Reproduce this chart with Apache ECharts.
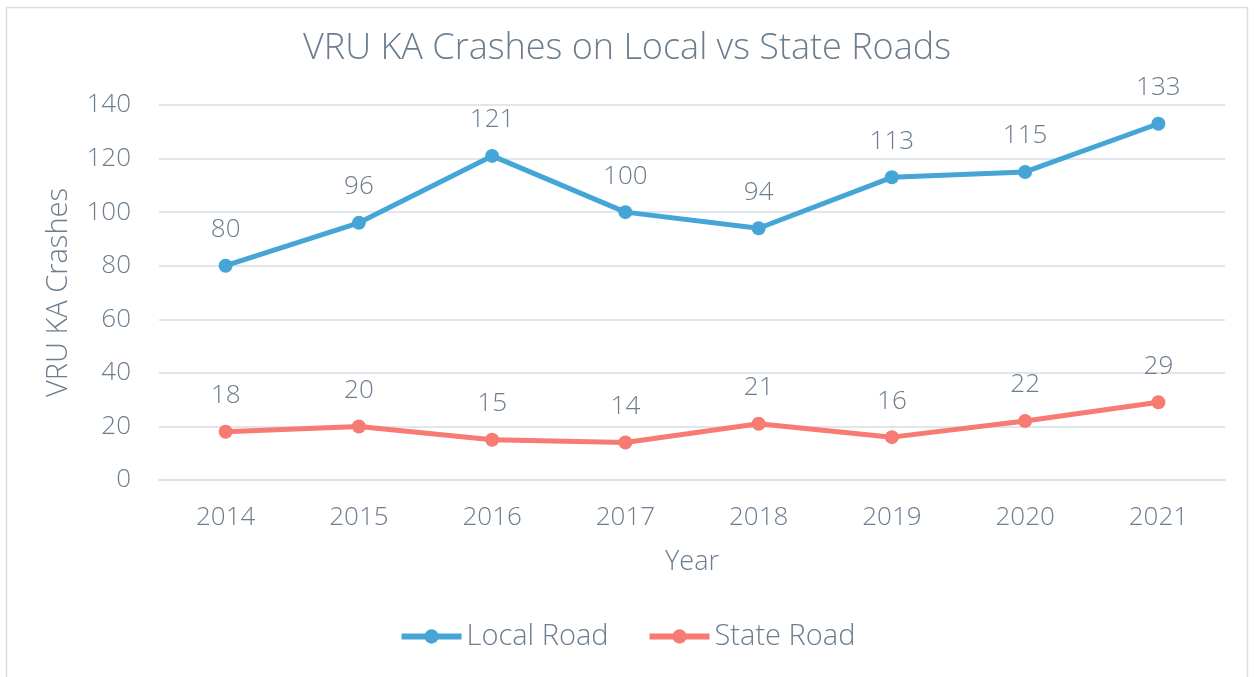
<!DOCTYPE html>
<html>
<head>
<meta charset="utf-8">
<script src="https://cdn.jsdelivr.net/npm/echarts@6/dist/echarts.min.js"></script>
<style>
html,body{margin:0;padding:0;background:#fff;}
#main{width:1254px;height:677px;}
</style>
</head>
<body>
<div id="main"></div>
<script>
var years = ['2014', '2015', '2016', '2017', '2018', '2019', '2020', '2021'];
var localRoad = [80, 96, 121, 100, 94, 113, 115, 133];
var stateRoad = [18, 20, 15, 14, 21, 16, 22, 29];

var textColor = '#6b7d8e';
var font = 'Open Sans';

var myChart = echarts.init(document.getElementById('main'));
myChart.setOption({
    textStyle: { fontFamily: font, color: textColor },
    graphic: [{
        type: 'rect',
        shape: { x: 6.5, y: 7.5, width: 1241, height: 700 },
        style: { fill: 'none', stroke: '#d9dee4', lineWidth: 1.5 },
        silent: true
    }],
    title: {
        text: 'VRU KA Crashes on Local vs State Roads',
        left: 'center',
        top: 26,
        textStyle: { fontFamily: font, fontSize: 36, fontWeight: 300, color: textColor }
    },
    legend: {
        bottom: 21,
        left: 'center',
        itemWidth: 60,
        itemHeight: 18,
        itemGap: 38,
        lineStyle: { width: 6 },
        textStyle: { fontFamily: font, fontSize: 29, fontWeight: 300, color: textColor },
        data: ['Local Road', 'State Road']
    },
    grid: { left: 159, right: 29, top: 105, bottom: 197 },
    xAxis: {
        type: 'category',
        data: years,
        name: 'Year',
        nameLocation: 'middle',
        nameGap: 69,
        nameTextStyle: { fontFamily: font, fontSize: 27, fontWeight: 300, color: textColor },
        axisLine: { lineStyle: { color: '#d9dee4', width: 1.5 } },
        axisTick: { show: false },
        axisLabel: { fontFamily: font, fontSize: 26, fontWeight: 300, color: textColor, margin: 25 }
    },
    yAxis: {
        type: 'value',
        min: 0,
        max: 140,
        interval: 20,
        name: 'VRU KA Crashes',
        nameLocation: 'middle',
        nameGap: 86,
        nameTextStyle: { fontFamily: font, fontSize: 29, fontWeight: 300, color: textColor },
        axisLine: { show: false },
        axisTick: { show: false },
        axisLabel: { fontFamily: font, fontSize: 26, fontWeight: 300, color: textColor, margin: 28 },
        splitLine: { lineStyle: { color: '#d9dee4', width: 1.5 } }
    },
    series: [{
        name: 'Local Road',
        type: 'line',
        data: localRoad,
        symbol: 'circle',
        symbolSize: 14,
        color: '#45a5d6',
        lineStyle: { width: 5 },
        label: { show: true, position: 'top', distance: 16, fontFamily: font, fontSize: 26, fontWeight: 300, color: textColor }
    }, {
        name: 'State Road',
        type: 'line',
        data: stateRoad,
        symbol: 'circle',
        symbolSize: 14,
        color: '#f77b72',
        lineStyle: { width: 5 },
        label: { show: true, position: 'top', distance: 16, fontFamily: font, fontSize: 26, fontWeight: 300, color: textColor }
    }]
});
</script>
</body>
</html>
